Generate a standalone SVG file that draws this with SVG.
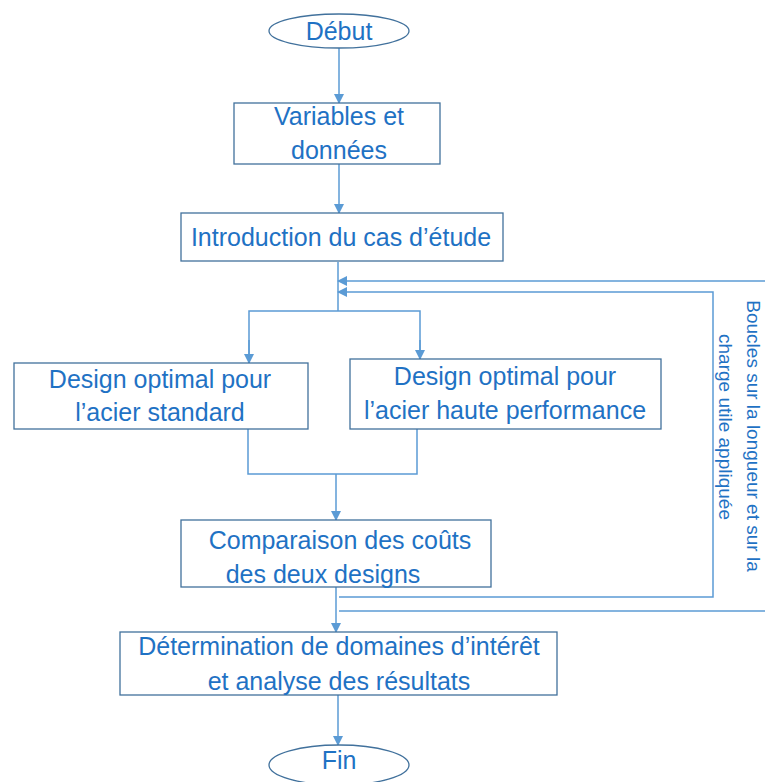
<svg xmlns="http://www.w3.org/2000/svg" width="765" height="782" viewBox="0 0 765 782">
<style>
.box{fill:#fff;stroke:#41719C;stroke-width:1.3}
.t{font-family:"Liberation Sans",Arial,sans-serif;font-size:25px;fill:#1F72C4;text-anchor:middle}
.rt{font-family:"Liberation Sans",Arial,sans-serif;font-size:19px;fill:#1F72C4;text-anchor:middle}
.c{fill:none;stroke:#5B9BD5;stroke-width:1.5}
</style>
<defs>
<marker id="ah" markerWidth="10" markerHeight="10" refX="9" refY="5" orient="auto" markerUnits="userSpaceOnUse">
<path d="M0,0 L10,5 L0,10 z" fill="#5B9BD5"/>
</marker>
</defs>
<rect width="765" height="782" fill="#fff"/>
<g id="connectors">
<line class="c" x1="339" y1="48" x2="339" y2="103" marker-end="url(#ah)"/>
<line class="c" x1="339" y1="164" x2="339" y2="213" marker-end="url(#ah)"/>
<line class="c" x1="338" y1="262" x2="338" y2="311"/>
<polyline class="c" points="249,363 249,311 420,311 420,359"/>
<line class="c" x1="249" y1="340" x2="249" y2="363" marker-end="url(#ah)"/>
<line class="c" x1="420" y1="340" x2="420" y2="359" marker-end="url(#ah)"/>
<polyline class="c" points="765,281 338,281" marker-end="url(#ah)"/>
<polyline class="c" points="339,597 713,597 713,292 338,292" marker-end="url(#ah)"/>
<line class="c" x1="339" y1="611" x2="765" y2="611"/>
<polyline class="c" points="248,429 248,474 417,474 417,429"/>
<line class="c" x1="336" y1="474" x2="336" y2="520" marker-end="url(#ah)"/>
<line class="c" x1="336" y1="587" x2="336" y2="632" marker-end="url(#ah)"/>
<line class="c" x1="338" y1="695" x2="338" y2="745" marker-end="url(#ah)"/>
</g>
<g id="debut">
<ellipse class="box" cx="339" cy="31" rx="70" ry="17"/>
<text class="t" x="339" y="40">Début</text>
</g>
<g id="variables">
<rect class="box" x="234" y="103" width="206" height="61"/>
<text class="t" x="339" y="125">Variables et</text>
<text class="t" x="339" y="159">données</text>
</g>
<g id="introduction">
<rect class="box" x="181" y="213" width="322" height="48"/>
<text class="t" x="341" y="246">Introduction du cas d’étude</text>
</g>
<g id="standard">
<rect class="box" x="14" y="363" width="294" height="66"/>
<text class="t" x="160" y="388">Design optimal pour</text>
<text class="t" x="160" y="421">l’acier standard</text>
</g>
<g id="haute">
<rect class="box" x="350" y="359" width="311" height="70"/>
<text class="t" x="505" y="385">Design optimal pour</text>
<text class="t" x="505" y="419">l’acier haute performance</text>
</g>
<g id="comparaison">
<rect class="box" x="181" y="520" width="310" height="67"/>
<text class="t" x="340" y="549">Comparaison des coûts</text>
<text class="t" x="323" y="583">des deux designs</text>
</g>
<g id="determination">
<rect class="box" x="120" y="632" width="437" height="63"/>
<text class="t" x="339" y="655">Détermination de domaines d’intérêt</text>
<text class="t" x="339" y="690">et analyse des résultats</text>
</g>
<g id="fin">
<ellipse class="box" cx="339" cy="765" rx="70" ry="20"/>
<text class="t" x="339" y="769">Fin</text>
</g>
<g id="loop-label">
<text class="rt" transform="translate(747,436) rotate(90)">Boucles sur la longueur et sur la</text>
<text class="rt" transform="translate(719,427) rotate(90)">charge utile appliquée</text>
</g>
</svg>
